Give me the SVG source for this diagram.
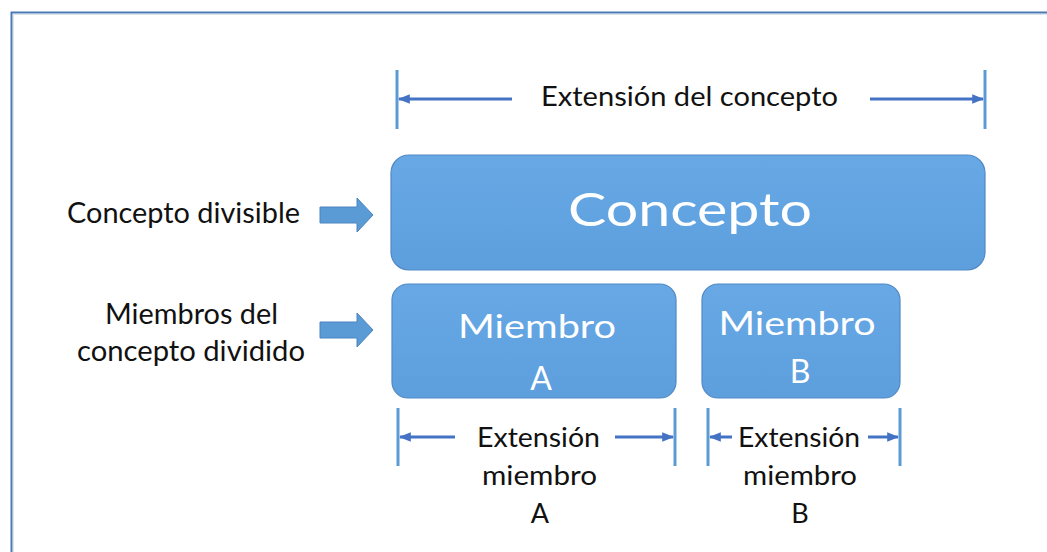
<svg xmlns="http://www.w3.org/2000/svg" width="1047" height="552" viewBox="0 0 1047 552">
<defs>
<linearGradient id="g" x1="0" y1="0" x2="0" y2="1">
<stop offset="0" stop-color="#67a8e5"/>
<stop offset="1" stop-color="#5d9edd"/>
</linearGradient>
<marker id="ah" viewBox="0 0 10 10" refX="9" refY="5" markerWidth="4" markerHeight="4" orient="auto-start-reverse" markerUnits="strokeWidth">
<path d="M0,1 L10,5 L0,9 Z" fill="#4472c4"/>
</marker>
<style>
.box{fill:url(#g);stroke:#5189c6;stroke-width:1.2}
.lbl{font-family:Lato,"Open Sans",sans-serif;fill:#111;text-anchor:middle}
.wt{font-family:Lato,"Open Sans",sans-serif;fill:#fff;text-anchor:middle}
.tick{stroke:#5b9bd5;stroke-width:3}
.arr{stroke:#4472c4;stroke-width:3;fill:none;marker-end:url(#ah)}
.blk{fill:#5b9bd5;stroke:#4a84c0;stroke-width:1}
</style>
</defs>
<rect width="1047" height="552" fill="#fff"/>
<path d="M11.5,552 V12.5 H1047" fill="none" stroke="#4a7ab4" stroke-width="2"/>
<path d="M13.5,552 V14.5 H1047" fill="none" stroke="#dbe4ee" stroke-width="1"/>

<g id="concepto"><rect class="box" x="391" y="155" width="594" height="115" rx="18"/>
<text class="wt" x="690" y="226" font-size="46" textLength="244" lengthAdjust="spacingAndGlyphs">Concepto</text></g>
<g id="miembroA"><rect class="box" x="392" y="284" width="284" height="114" rx="16"/>
<text class="wt" x="537" y="338" font-size="32" textLength="158" lengthAdjust="spacingAndGlyphs">Miembro</text>
<text class="wt" x="541" y="390" font-size="32">A</text></g>
<g id="miembroB"><rect class="box" x="702" y="284" width="198" height="114" rx="16"/>
<text class="wt" x="797" y="335" font-size="32" textLength="157" lengthAdjust="spacingAndGlyphs">Miembro</text>
<text class="wt" x="800" y="383" font-size="32">B</text></g>

<g id="etiquetas">
<text class="lbl" x="183.5" y="223" font-size="28" textLength="233" lengthAdjust="spacingAndGlyphs">Concepto divisible</text>
<text class="lbl" x="191.5" y="324" font-size="28" textLength="173" lengthAdjust="spacingAndGlyphs">Miembros del</text>
<text class="lbl" x="191" y="361" font-size="28" textLength="228" lengthAdjust="spacingAndGlyphs">concepto dividido</text>
<text class="lbl" x="689.5" y="106" font-size="27" textLength="297" lengthAdjust="spacingAndGlyphs">Extensión del concepto</text>
<text class="lbl" x="538.5" y="447" font-size="27" textLength="123" lengthAdjust="spacingAndGlyphs">Extensión</text>
<text class="lbl" x="539.5" y="485" font-size="27" textLength="115" lengthAdjust="spacingAndGlyphs">miembro</text>
<text class="lbl" x="540" y="523" font-size="27">A</text>
<text class="lbl" x="799" y="447" font-size="27" textLength="122" lengthAdjust="spacingAndGlyphs">Extensión</text>
<text class="lbl" x="800" y="485" font-size="27" textLength="114" lengthAdjust="spacingAndGlyphs">miembro</text>
<text class="lbl" x="800" y="523" font-size="27">B</text>
</g>

<g id="connectors">
<path class="blk" d="M320,207 H357 V198 L373,215 L357,232 V223 H320 Z"/>
<path class="blk" d="M320,322 H357 V313 L373,330 L357,347 V338 H320 Z"/>
<line class="tick" x1="397" y1="70" x2="397" y2="129"/>
<line class="tick" x1="985" y1="70" x2="985" y2="129"/>
<line class="arr" x1="512" y1="99" x2="399" y2="99"/>
<line class="arr" x1="870" y1="99" x2="983" y2="99"/>
<line class="tick" x1="398" y1="408" x2="398" y2="466"/>
<line class="tick" x1="675" y1="408" x2="675" y2="466"/>
<line class="arr" x1="455" y1="437" x2="400" y2="437"/>
<line class="arr" x1="615" y1="437" x2="673" y2="437"/>
<line class="tick" x1="708" y1="408" x2="708" y2="466"/>
<line class="tick" x1="900" y1="408" x2="900" y2="466"/>
<line class="arr" x1="732" y1="437" x2="710" y2="437"/>
<line class="arr" x1="868" y1="437" x2="898" y2="437"/>
</g>
</svg>
